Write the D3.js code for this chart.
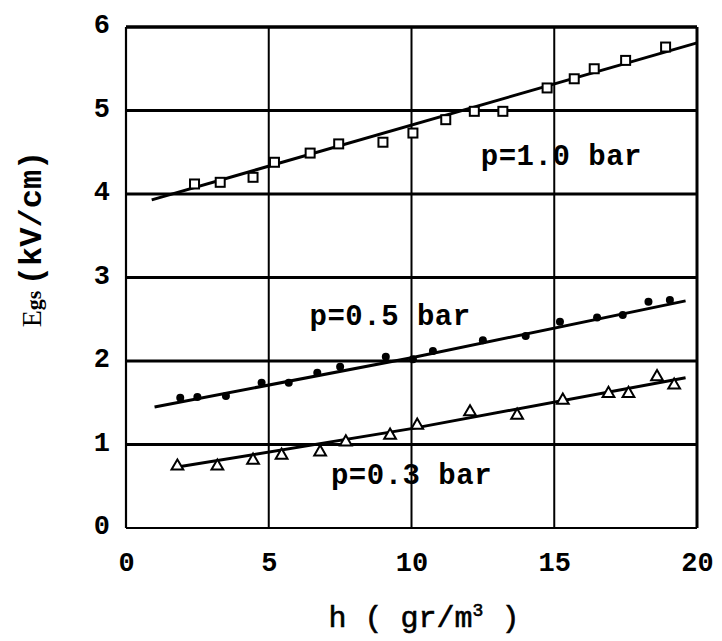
<!DOCTYPE html>
<html><head><meta charset="utf-8">
<script src="https://cdn.jsdelivr.net/npm/d3@7"></script>
<style>body{margin:0;background:#fff}svg{display:block}</style>
</head><body><svg id="c" width="722" height="641"></svg>
<script>
// ---- data ----
const xTicks = [0, 5, 10, 15, 20];
const yTicks = [0, 1, 2, 3, 4, 5, 6];

// p = 1.0 bar (open squares)
const p10X = [2.4, 3.3, 4.45, 5.2, 6.45, 7.45, 9.0, 10.05, 11.2, 12.2, 13.2, 14.75, 15.7, 16.4, 17.5, 18.9];
const p10Y = [4.12, 4.14, 4.20, 4.38, 4.49, 4.60, 4.62, 4.73, 4.89, 4.99, 4.99, 5.27, 5.38, 5.50, 5.60, 5.76];
const fit10X = [0.9, 20.0];
const fit10Y = [3.93, 5.81];

// p = 0.5 bar (filled dots)
const p05X = [1.9, 2.5, 3.5, 4.75, 5.7, 6.7, 7.5, 9.1, 10.05, 10.75, 12.5, 14.0, 15.2, 16.5, 17.4, 18.3, 19.05];
const p05Y = [1.56, 1.57, 1.58, 1.74, 1.74, 1.86, 1.93, 2.05, 2.02, 2.12, 2.25, 2.30, 2.47, 2.52, 2.55, 2.71, 2.73];
const fit05X = [1.0, 10.0, 19.6];
const fit05Y = [1.45, 2.04, 2.72];

// p = 0.3 bar (open triangles)
const p03X = [1.8, 3.2, 4.45, 5.45, 6.8, 7.7, 9.25, 10.2, 12.05, 13.7, 15.3, 16.9, 17.6, 18.6, 19.2];
const p03Y = [0.74, 0.74, 0.81, 0.87, 0.91, 1.03, 1.11, 1.23, 1.39, 1.35, 1.53, 1.61, 1.61, 1.81, 1.71];
const fit03X = [1.8, 10.0, 19.6];
const fit03Y = [0.73, 1.19, 1.80];

const labelTexts = ["p=1.0 bar", "p=0.5 bar", "p=0.3 bar"];
const labelX = [15.25, 9.25, 10.0];
const labelY = [4.35, 2.43, 0.53];

// ---- drawing ----
const W = 722, H = 641;
const m = {left: 126, right: 25, top: 27, bottom: 113};
const svg = d3.select("#c");
const x = d3.scaleLinear().domain([0, 20]).range([m.left, W - m.right]);
const y = d3.scaleLinear().domain([0, 6]).range([H - m.bottom, m.top]);
const mono = "'Liberation Mono','Courier New',monospace";

// grid
const g = svg.append("g");
g.selectAll("line.h").data(yTicks.slice(1, -1)).join("line")
  .attr("x1", x(0)).attr("x2", x(20)).attr("y1", d => y(d)).attr("y2", d => y(d))
  .attr("stroke", "#000").attr("stroke-width", 3);
g.selectAll("line.v").data(xTicks.slice(1, -1)).join("line")
  .attr("y1", y(0)).attr("y2", y(6)).attr("x1", d => x(d)).attr("x2", d => x(d))
  .attr("stroke", "#000").attr("stroke-width", 2);
// frame: thick top/right, thinner left/bottom
g.append("line").attr("x1", x(0)).attr("x2", x(20)).attr("y1", y(6)).attr("y2", y(6)).attr("stroke", "#000").attr("stroke-width", 3.5);
g.append("line").attr("x1", x(20)).attr("x2", x(20)).attr("y1", y(6)).attr("y2", y(0)).attr("stroke", "#000").attr("stroke-width", 3);
g.append("line").attr("x1", x(0)).attr("x2", x(0)).attr("y1", y(6)).attr("y2", y(0)).attr("stroke", "#000").attr("stroke-width", 2.2);
g.append("line").attr("x1", x(0)).attr("x2", x(20)).attr("y1", y(0)).attr("y2", y(0)).attr("stroke", "#000").attr("stroke-width", 2.2);

// axes (labels only)
const xAxis = d3.axisBottom(x).tickValues(xTicks).tickSize(0).tickPadding(24).tickFormat(d3.format("d"));
const ax = svg.append("g").attr("transform", `translate(0,${y(0)})`).call(xAxis);
ax.select(".domain").remove();
ax.selectAll("text").attr("font-family", mono).attr("font-weight", "bold").attr("font-size", 27).attr("fill", "#000");

const yAxis = d3.axisLeft(y).tickValues(yTicks).tickSize(0).tickPadding(16).tickFormat(d3.format("d"));
const ay = svg.append("g").attr("transform", `translate(${x(0)},-3)`).call(yAxis);
ay.select(".domain").remove();
ay.selectAll("text").attr("font-family", mono).attr("font-weight", "bold").attr("font-size", 27).attr("fill", "#000");

// fit lines
const line = d3.line().x(d => x(d[0])).y(d => y(d[1]));
[[fit10X, fit10Y], [fit05X, fit05Y], [fit03X, fit03Y]].forEach(([fx, fy]) => {
  svg.append("path").datum(d3.zip(fx, fy)).attr("d", line)
    .attr("fill", "none").attr("stroke", "#000").attr("stroke-width", 3);
});

// markers
svg.append("g").selectAll("rect").data(d3.zip(p10X, p10Y)).join("rect")
  .attr("x", d => x(d[0]) - 4.5).attr("y", d => y(d[1]) - 4.5).attr("width", 9).attr("height", 9)
  .attr("fill", "#fff").attr("stroke", "#000").attr("stroke-width", 2);
svg.append("g").selectAll("circle").data(d3.zip(p05X, p05Y)).join("circle")
  .attr("cx", d => x(d[0])).attr("cy", d => y(d[1])).attr("r", 4).attr("fill", "#000");
const tri = d3.symbol().type(d3.symbolTriangle).size(60);
svg.append("g").selectAll("path").data(d3.zip(p03X, p03Y)).join("path")
  .attr("d", tri).attr("transform", d => `translate(${x(d[0])},${y(d[1])})`)
  .attr("fill", "#fff").attr("stroke", "#000").attr("stroke-width", 2);

// series labels
svg.append("g").selectAll("text").data(d3.zip(labelTexts, labelX, labelY)).join("text")
  .attr("x", d => x(d[1])).attr("y", d => y(d[2])).attr("text-anchor", "middle")
  .attr("font-family", mono).attr("font-size", 29).attr("font-weight", "bold").attr("fill", "#000")
  .attr("letter-spacing", 0.5)
  .text(d => d[0]);

// axis titles
svg.append("text").attr("x", 424).attr("y", 627).attr("text-anchor", "middle")
  .attr("font-family", mono).attr("font-size", 30).attr("fill", "#000")
  .attr("stroke", "#000").attr("stroke-width", 0.6)
  .html("h ( gr/m<tspan dy='-11' font-size='18'>3</tspan><tspan dy='11'> )</tspan>");
const yt = svg.append("text").attr("transform", `translate(41,239) rotate(-90)`)
  .attr("text-anchor", "middle").attr("fill", "#000");
yt.append("tspan").attr("font-family", "'Liberation Serif',serif").attr("font-size", 28).text("E");
yt.append("tspan").attr("font-family", "'Liberation Serif',serif").attr("font-size", 22).attr("font-weight", "bold").text("gs ");
yt.append("tspan").attr("font-family", mono).attr("font-size", 32).attr("font-weight", "bold").text("(kV/cm)");
</script></body></html>
